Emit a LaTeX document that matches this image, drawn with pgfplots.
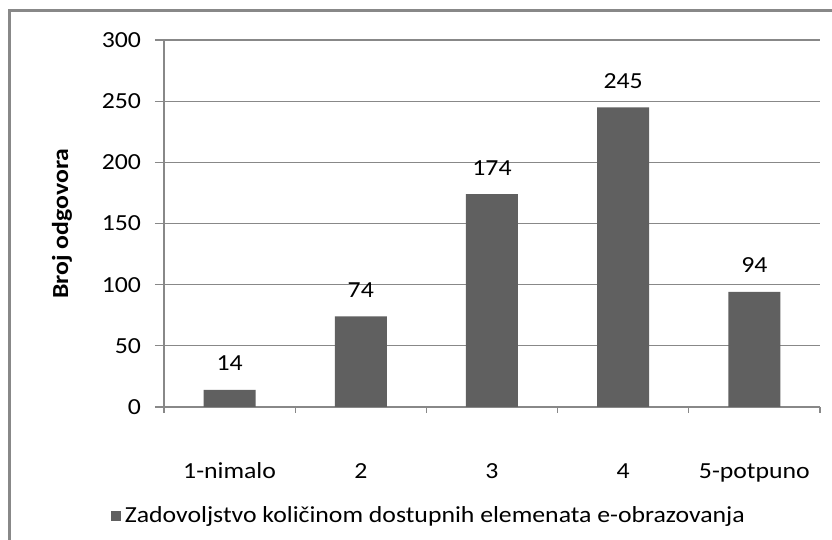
\documentclass[border=0pt]{standalone}
\usepackage{pgfplots}
\pgfplotsset{compat=1.18}
\usepackage{fontspec}
\setmainfont{Carlito}[FakeStretch=1.12]
\definecolor{barc}{HTML}{606060}
\definecolor{gridc}{HTML}{888888}
\begin{document}
\begin{tikzpicture}[font=\fontsize{11.5}{13}\selectfont]
\path[use as bounding box, fill=white] (0,0) rectangle (416pt,270pt);
\draw[gridc, line width=1.5pt] (4.75pt,-20pt) -- (4.75pt,264.5pt) -- (440pt,264.5pt);
\begin{axis}[
  at={(82pt,66.5pt)}, anchor=south west,
  scale only axis, width=328pt, height=183.5pt,
  xmin=-0.5, xmax=4.5, ymin=0, ymax=300,
  ytick={0,50,...,300},
  xtick={0,1,2,3,4},
  xticklabels={1-nimalo,2,3,4,5-potpuno},
  minor xtick={-0.5,0.5,...,4.5},
  major x tick style={draw=none},
  minor x tick style={gridc, line width=0.6pt},
  minor tick length=3pt,
  major tick length=4.5pt,
  tick align=outside,
  tick pos=left,
  ytick style={gridc, line width=0.6pt},
  ymajorgrids, grid style={gridc, line width=0.6pt},
  axis x line*=bottom, axis y line*=left,
  axis line style={gridc, line width=0.6pt, -},
  /pgf/number format/assume math mode=true,
  yticklabel style={anchor=east, xshift=-3.5pt},
  xticklabel style={anchor=base, yshift=-31.5pt},
  ylabel={\bfseries Broj odgovora},
  ylabel style={at={(axis description cs:-0.1555,0.5)}, anchor=center, rotate=0},
  ybar, bar width=26pt,
  nodes near coords,
  every node near coord/.append style={yshift=6pt, black},
  legend style={at={(0.405,-0.297)}, anchor=center, draw=none, fill=none,
    legend cell align=left, /tikz/every even column/.append style={column sep=2pt}},
  legend image code/.code={\fill[barc] (0pt,-2.6pt) rectangle (5.2pt,2.6pt);},
]
\addplot[fill=barc, draw=none] coordinates {(0,14) (1,74) (2,174) (3,245) (4,94)};
\addlegendentry{Zadovoljstvo količinom dostupnih elemenata e-obrazovanja}
\end{axis}
\end{tikzpicture}
\end{document}
